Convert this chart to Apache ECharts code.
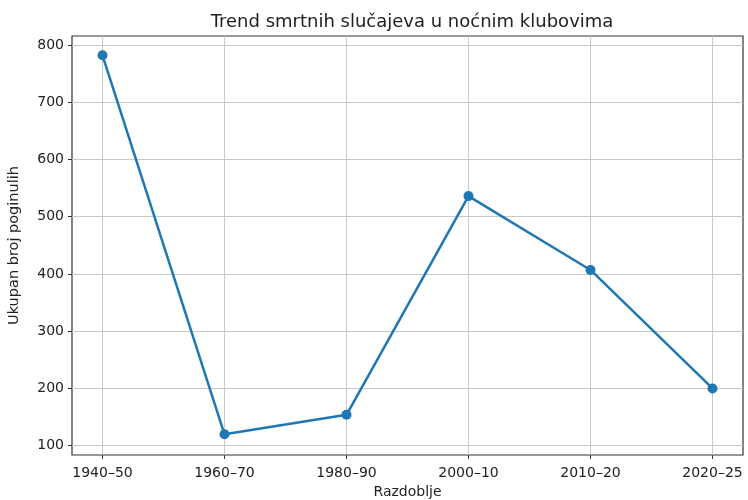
<!DOCTYPE html>
<html>
<head>
<meta charset="utf-8">
<script src="https://cdn.jsdelivr.net/npm/echarts@6/dist/echarts.min.js"></script>
<style>
    html, body { margin: 0; padding: 0; background: #fff; }
    #chart { width: 748px; height: 500px; }
</style>
</head>
<body>
<div id="chart"></div>
<script>
// podaci
var periods = ['1940–50', '1960–70', '1980–90', '2000–10', '2010–20', '2020–25'];
var deaths = [782, 120, 154, 536, 407, 200];
var yTicks = [100, 200, 300, 400, 500, 600, 700, 800];

var myChart = echarts.init(document.getElementById('chart'));
var font = 'DejaVu Sans';
var idx = periods.map(function (p, i) { return i; });

var option = {
    animation: false,
    textStyle: { fontFamily: font },
    title: {
        text: 'Trend smrtnih slučajeva u noćnim klubovima',
        left: 407,
        textAlign: 'center',
        top: 8,
        textStyle: { fontFamily: font, fontSize: 18, fontWeight: 'normal', color: '#222' }
    },
    grid: {
        left: 72, right: 5, top: 36, bottom: 45,
        outerBoundsMode: 'none',
        show: true, borderColor: '#333', borderWidth: 1.2, backgroundColor: '#fff'
    },
    xAxis: {
        type: 'value',
        min: -0.25,
        max: 5.25,
        name: 'Razdoblje',
        nameLocation: 'middle',
        nameGap: 30,
        nameTextStyle: { fontFamily: font, fontSize: 14, color: '#222' },
        axisLine: { show: false, onZero: false },
        axisTick: { show: true, customValues: idx, length: 4, lineStyle: { color: '#333' } },
        axisLabel: {
            customValues: idx,
            margin: 11,
            fontFamily: font, fontSize: 14, color: '#222',
            formatter: function (v) { return periods[Math.round(v)]; }
        },
        splitLine: { show: true, lineStyle: { color: '#c8c8c8', width: 1 } }
    },
    yAxis: {
        type: 'value',
        min: 83.8,
        max: 815.7,
        name: 'Ukupan broj poginulih',
        nameLocation: 'middle',
        nameGap: 50,
        nameTextStyle: { fontFamily: font, fontSize: 14.5, color: '#222' },
        axisLine: { show: false, onZero: false },
        axisTick: { show: true, customValues: yTicks, length: 4, lineStyle: { color: '#333' } },
        axisLabel: {
            customValues: yTicks,
            margin: 8,
            fontFamily: font, fontSize: 14, color: '#222'
        },
        splitLine: { show: true, lineStyle: { color: '#c8c8c8', width: 1 } }
    },
    series: [{
        type: 'line',
        data: deaths.map(function (v, i) { return [i, v]; }),
        symbol: 'circle',
        symbolSize: 10,
        lineStyle: { color: '#1f77b4', width: 2.5 },
        itemStyle: { color: '#1f77b4' }
    }]
};

myChart.setOption(option);
</script>
</body>
</html>
